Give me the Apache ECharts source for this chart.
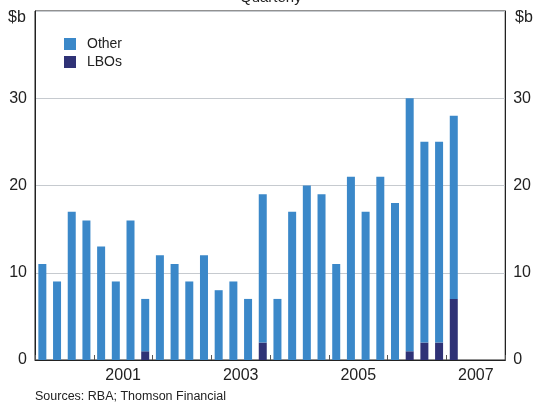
<!DOCTYPE html>
<html>
<head>
<meta charset="utf-8">
<script src="https://cdn.jsdelivr.net/npm/echarts@6/dist/echarts.min.js"></script>
<style>
  html, body { margin: 0; padding: 0; background: #fff; }
  #chart { width: 534px; height: 404px; }
</style>
</head>
<body>
<div id="chart"></div>
<script>
// quarters 2000 Q1 .. 2007 Q4
const years = ['2000', '2001', '2002', '2003', '2004', '2005', '2006', '2007'];
const quarters = [];
years.forEach(function (y) {
  ['Q1', 'Q2', 'Q3', 'Q4'].forEach(function (q) { quarters.push(y + ' ' + q); });
});

// $b, bar values
const lboValues = [0, 0, 0, 0, 0, 0, 0, 1, 0, 0, 0, 0, 0, 0, 0, 2, 0, 0, 0, 0, 0, 0, 0, 0, 0, 1, 2, 2, 7];
const otherValues = [11, 9, 17, 16, 13, 9, 16, 6, 12, 11, 9, 12, 8, 9, 7, 17, 7, 17, 20, 19, 11, 21, 17, 21, 18, 29, 23, 23, 21];
const yearLabels = ['2001', '2003', '2005', '2007'];

const font = 'Liberation Sans, Arial, sans-serif';
const chart = echarts.init(document.getElementById('chart'));

const yAxisBase = {
  type: 'value',
  min: 0,
  max: 40,
  interval: 10,
  axisLine: { show: true, lineStyle: { color: '#222', width: 1 } },
  axisTick: { show: false },
  splitLine: { show: true, lineStyle: { color: '#c6cacf', width: 1 } },
  axisLabel: {
    color: '#222',
    fontSize: 16,
    fontFamily: font,
    formatter: function (v) { return v === 40 ? '' : String(v); }
  }
};

let option = {
  animation: false,
  grid: {
    left: 35, right: 25, top: 11, bottom: 44,
    show: true, borderColor: '#222', borderWidth: 1
  },
  legend: {
    data: ['Other', 'LBOs'],
    orient: 'vertical',
    left: 59,
    top: 32,
    itemWidth: 12,
    itemHeight: 12,
    itemGap: 4,
    icon: 'rect',
    textStyle: { color: '#222', fontSize: 14, fontFamily: font, padding: [0, 0, 0, 6] }
  },
  xAxis: [
    {
      type: 'category',
      data: quarters,
      position: 'bottom',
      axisLine: { show: true, lineStyle: { color: '#222' } },
      axisTick: {
        show: true,
        inside: true,
        length: 5,
        interval: function (i) { return i % 4 === 0; },
        lineStyle: { color: '#555' }
      },
      axisLabel: { show: false }
    },
    {
      type: 'category',
      data: years,
      position: 'bottom',
      axisLine: { show: false },
      axisTick: { show: false },
      axisLabel: {
        color: '#222',
        fontSize: 16,
        fontFamily: font,
        margin: 8,
        interval: 0,
        formatter: function (v) { return yearLabels.indexOf(v) >= 0 ? v : ''; }
      }
    }
  ],
  yAxis: [
    Object.assign({}, yAxisBase, { position: 'left' }),
    Object.assign({}, yAxisBase, { position: 'right', splitLine: { show: false } })
  ],
  graphic: [
    { type: 'text', left: 8, top: 10, style: { text: '$b', fontSize: 16, fontFamily: font, fill: '#222' } },
    { type: 'text', left: 515, top: 10, style: { text: '$b', fontSize: 16, fontFamily: font, fill: '#222' } },
    { type: 'text', left: 240, top: -10, style: { text: 'Quarterly', fontSize: 15, fontFamily: font, fill: '#222' } },
    { type: 'text', left: 35, top: 390, style: { text: 'Sources: RBA; Thomson Financial', fontSize: 12.5, fontFamily: font, fill: '#222' } }
  ],
  series: [
    {
      name: 'LBOs',
      type: 'bar',
      stack: 'total',
      barWidth: 8,
      itemStyle: { color: '#2f3276' },
      data: lboValues
    },
    {
      name: 'Other',
      type: 'bar',
      stack: 'total',
      barWidth: 8,
      itemStyle: { color: '#3b88c9' },
      data: otherValues
    }
  ]
};

chart.setOption(option);
</script>
</body>
</html>
